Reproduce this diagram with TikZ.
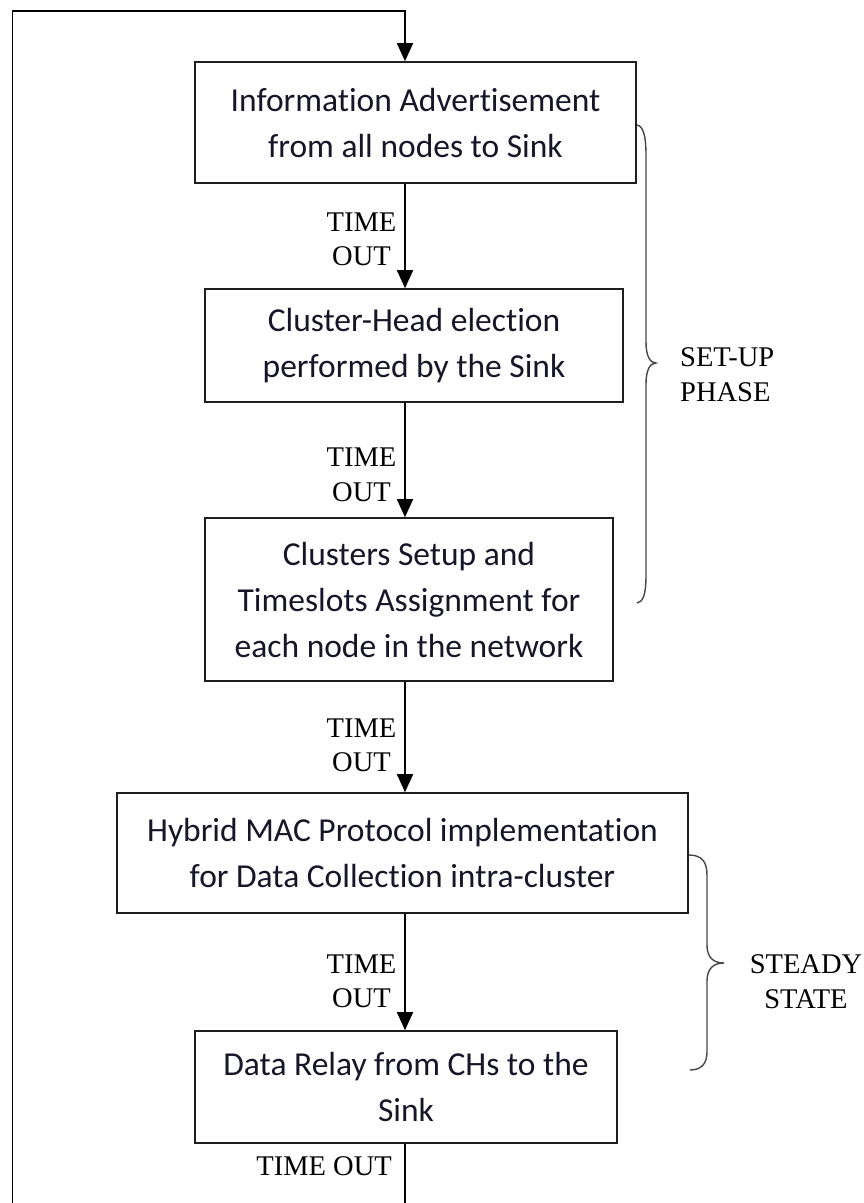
\documentclass[tikz,border=0pt]{standalone}
\usepackage{fontspec}
\setmainfont{Liberation Serif}
\newfontfamily\boxfont[Ligatures=NoCommon]{Carlito}
\usetikzlibrary{arrows.meta}
\definecolor{boxtext}{RGB}{22,22,40}
\definecolor{edge}{RGB}{30,30,30}
\definecolor{bracecol}{RGB}{70,70,70}
\tikzset{
  stepbox/.style={draw=edge, line width=1.6pt, inner sep=0pt, align=center,
    text=boxtext, font=\boxfont\fontsize{33.5}{46}\selectfont},
  flow/.style={draw=black, line width=1.6pt, -{Triangle[length=18pt,width=16pt]}},
  lbl/.style={inner sep=0pt, align=center, font=\fontsize{28.5}{34.5}\selectfont},
  phase/.style={inner sep=0pt, font=\fontsize{28.5}{34.5}\selectfont},
  bracepath/.style={draw=bracecol, line width=1.4pt}
}
\begin{document}
\begin{tikzpicture}[x=1pt,y=-1pt]
\path[use as bounding box, clip] (0,0) rectangle (864,1203);
\coordinate (axis) at (405,0);

\node[stepbox, minimum width=441pt, minimum height=121pt] (b1) at (415.5,122.5)
  {Information Advertisement\\from all nodes to Sink};
\node[stepbox, minimum width=418pt, minimum height=113pt] (b2) at (414,345.5)
  {Cluster-Head election\\performed by the Sink};
\node[stepbox, minimum width=408pt, minimum height=163pt] (b3) at (409,599.5)
  {Clusters Setup and\\Timeslots Assignment for\\each node in the network};
\node[stepbox, minimum width=571pt, minimum height=120pt] (b4) at (402.5,853)
  {Hybrid MAC Protocol implementation\\for Data Collection intra-cluster};
\node[stepbox, minimum width=422pt, minimum height=112pt] (b5) at (406,1087)
  {Data Relay from CHs to the\\Sink};

\draw[flow] (b1.south -| axis) -- (b2.north -| axis);
\draw[flow] (b2.south -| axis) -- (b3.north -| axis);
\draw[flow] (b3.south -| axis) -- (b4.north -| axis);
\draw[flow] (b4.south -| axis) -- (b5.north -| axis);

\coordinate (lb) at (12.5,1215);
\coordinate (lt) at (12.5,11);
\draw[flow] (b5.south -| axis) |- (lb) -- (lt) -| (b1.north -| axis);

\node[lbl] (t1) at (361.5,239.5) {TIME\\OUT};
\node[lbl] (t2) at (361.5,475) {TIME\\OUT};
\node[lbl] (t3) at (361.5,745.5) {TIME\\OUT};
\node[lbl] (t4) at (361.5,981.5) {TIME\\OUT};
\node[lbl, anchor=east] (t5) at (392,1166) {TIME OUT};

\draw[bracepath] (637,125) .. controls (643,126) and (646,135) .. (646,155)
  -- (646,342) .. controls (646,356) and (650,363) .. (656,363)
  .. controls (650,363) and (646,370) .. (646,384)
  -- (646,575) .. controls (646,595) and (643,602) .. (637,603);
\node[phase, align=left, anchor=west] (setup) at (680,374.5) {SET-UP\\PHASE};

\draw[bracepath] (689,855) .. controls (702,855) and (707,862) .. (707,875)
  -- (707,945) .. controls (707,957) and (713,963) .. (724,963)
  .. controls (713,963) and (707,969) .. (707,981)
  -- (707,1052) .. controls (707,1064) and (701,1070) .. (690,1070);
\node[phase, align=center] (steady) at (806,981.5) {STEADY\\STATE};
\end{tikzpicture}
\end{document}
